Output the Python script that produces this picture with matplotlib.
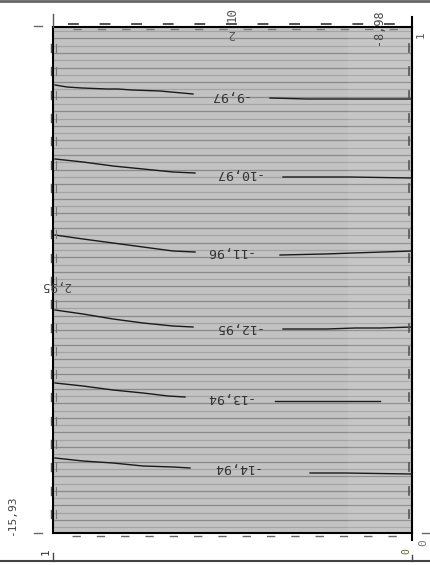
import numpy as np
import matplotlib
import matplotlib.pyplot as plt

matplotlib.use('Agg')

# contour levels, upside-down labels as printed
levels = ['-9,97', '-10,97', '-11,96', '-12,95', '-13,94', '-14,94']

# each contour: left piece (sloping) and right piece (flat), data units
left_x = [
    [0.2, 1.4, 2.9, 5.4, 6.5, 7.9, 10.7, 14.0],
    [0.2, 3.0, 6.0, 9.0, 12.0, 14.2],
    [0.2, 3.0, 6.0, 9.0, 12.0, 14.2],
    [0.2, 3.0, 6.0, 9.0, 12.0, 14.0],
    [0.2, 3.0, 6.0, 9.0, 11.5, 13.2],
    [0.2, 3.0, 6.0, 9.0, 12.0, 13.7],
]
left_y = [
    [5.8, 6.0, 6.1, 6.2, 6.2, 6.3, 6.4, 6.7],
    [13.2, 13.5, 13.9, 14.2, 14.5, 14.6],
    [20.8, 21.2, 21.6, 22.0, 22.4, 22.5],
    [28.3, 28.7, 29.2, 29.6, 29.9, 30.0],
    [35.6, 35.9, 36.3, 36.6, 36.9, 37.0],
    [43.1, 43.4, 43.6, 43.9, 44.0, 44.1],
]
right_x = [
    [21.7, 25.4, 35.9],
    [23.0, 29.7, 35.9],
    [22.7, 27.2, 30.0, 33.0, 35.9],
    [23.0, 27.4, 30.2, 32.7, 35.9],
    [22.2, 32.7],
    [25.7, 29.2, 35.9],
]
right_y = [
    [7.1, 7.2, 7.2],
    [15.0, 15.0, 15.1],
    [22.8, 22.7, 22.6, 22.5, 22.4],
    [30.2, 30.2, 30.1, 30.1, 30.0],
    [37.4, 37.4],
    [44.6, 44.6, 44.7],
]
label_x = [17.5, 18.4, 17.5, 18.4, 17.5, 18.2]
label_y = [6.9, 14.6, 22.5, 30.1, 37.1, 44.1]

W, H = 430, 565
fig = plt.figure(figsize=(W / 100, H / 100), dpi=100)

ax = fig.add_axes([53 / W, (H - 533) / H, 359 / W, 506 / H])
ax.set_facecolor('#c2c2c2')
ax.set_xlim(0, 35.9)
ax.set_ylim(50.6, 0)
ax.set_xticks([])
ax.set_yticks([])
for s in ax.spines.values():
    s.set_linewidth(1.5)
    s.set_color('black')

# overlay in pixel coords for frame decorations, drawn on top
deco = fig.add_axes([0, 0, 1, 1])
deco.set_xlim(0, W)
deco.set_ylim(H, 0)
deco.axis('off')
deco.patch.set_alpha(0)
deco.set_zorder(5)

# stripe texture
for k, yy in enumerate(np.arange(0.4, 50.6, 0.73)):
    ax.axhline(yy, color='#8a8a8a' if k % 2 else '#a3a3a3', lw=0.9, zorder=1)
ax.axvspan(29.5, 35.9, color='white', alpha=0.08, lw=0, zorder=1.5)

for i in range(len(levels)):
    ax.plot(left_x[i], left_y[i], color='#1a1a1a', lw=1.0, zorder=3)
    ax.plot(right_x[i], right_y[i], color='#1a1a1a', lw=1.0, zorder=3)
    ax.text(label_x[i], label_y[i], levels[i], rotation=180, ha='center',
            va='center', fontsize=9.5, family='DejaVu Sans Mono',
            color='#333333', zorder=4)

# side tick marks
for yy in np.arange(48, 520, 23.3):
    deco.plot([51, 51], [yy - 4, yy + 4], color='#555555', lw=1)
    deco.plot([56, 56], [yy - 4, yy + 4], color='#777777', lw=0.8)
    deco.plot([409, 409], [yy - 4, yy + 4], color='#555555', lw=1.2)

# dashed rows along top and bottom
deco.plot([68, 410], [24, 24], color='#444444', lw=1.3, ls=(0, (6, 11.5)))
deco.plot([73, 410], [29, 29], color='#777777', lw=1.0, ls=(0, (6, 11.5)))
deco.plot([72, 410], [536, 536], color='#666666', lw=1.0, ls=(0, (6, 11.5)))

# extended frame lines
deco.plot([53, 53], [14, 27], color='#555555', lw=1)
deco.plot([412, 412], [17, 27], color='black', lw=1.5)
deco.plot([412, 412], [533, 540], color='black', lw=1.5)
deco.plot([0, W], [1, 1], color='#666666', lw=2)
deco.plot([0, W], [561, 561], color='#444444', lw=1.5)
deco.plot([53, 53], [553, 561], color='#444444', lw=1)
deco.plot([412, 412], [555, 561], color='#444444', lw=1)
deco.plot([34, 42], [26, 26], color='#666666', lw=1)
deco.plot([34, 42], [533, 533], color='#666666', lw=1)
deco.plot([422, 430], [533, 533], color='#666666', lw=1)

mono = 'DejaVu Sans Mono'
deco.text(232, 15, '10', rotation=90, ha='center', va='center', fontsize=9,
          family=mono, color='#555555')
deco.text(231, 34, '2', rotation=180, ha='center', va='center', fontsize=9,
          family=mono, color='#555555')
deco.text(378, 27, '-8,98', rotation=90, ha='center', va='center',
          fontsize=8.5, family=mono, color='#444444')
deco.text(421, 35, '1', rotation=90, ha='center', va='center', fontsize=8,
          family=mono, color='#555555')
deco.text(56, 285, '2,95', rotation=180, ha='center', va='center', fontsize=9,
          family=mono, color='#444444')
deco.text(12, 516, '-15,93', rotation=90, ha='center', va='center', fontsize=8,
          family=mono, color='#444444')
deco.text(46, 552, '1', rotation=90, ha='center', va='center', fontsize=8,
          family=mono, color='#333333')
deco.text(406, 551, '0', rotation=90, ha='center', va='center', fontsize=7,
          family=mono, color='#666633')
deco.text(423, 543, '0', rotation=90, ha='center', va='center', fontsize=8,
          family=mono, color='#777777')

fig.savefig('out.png', dpi=100)
